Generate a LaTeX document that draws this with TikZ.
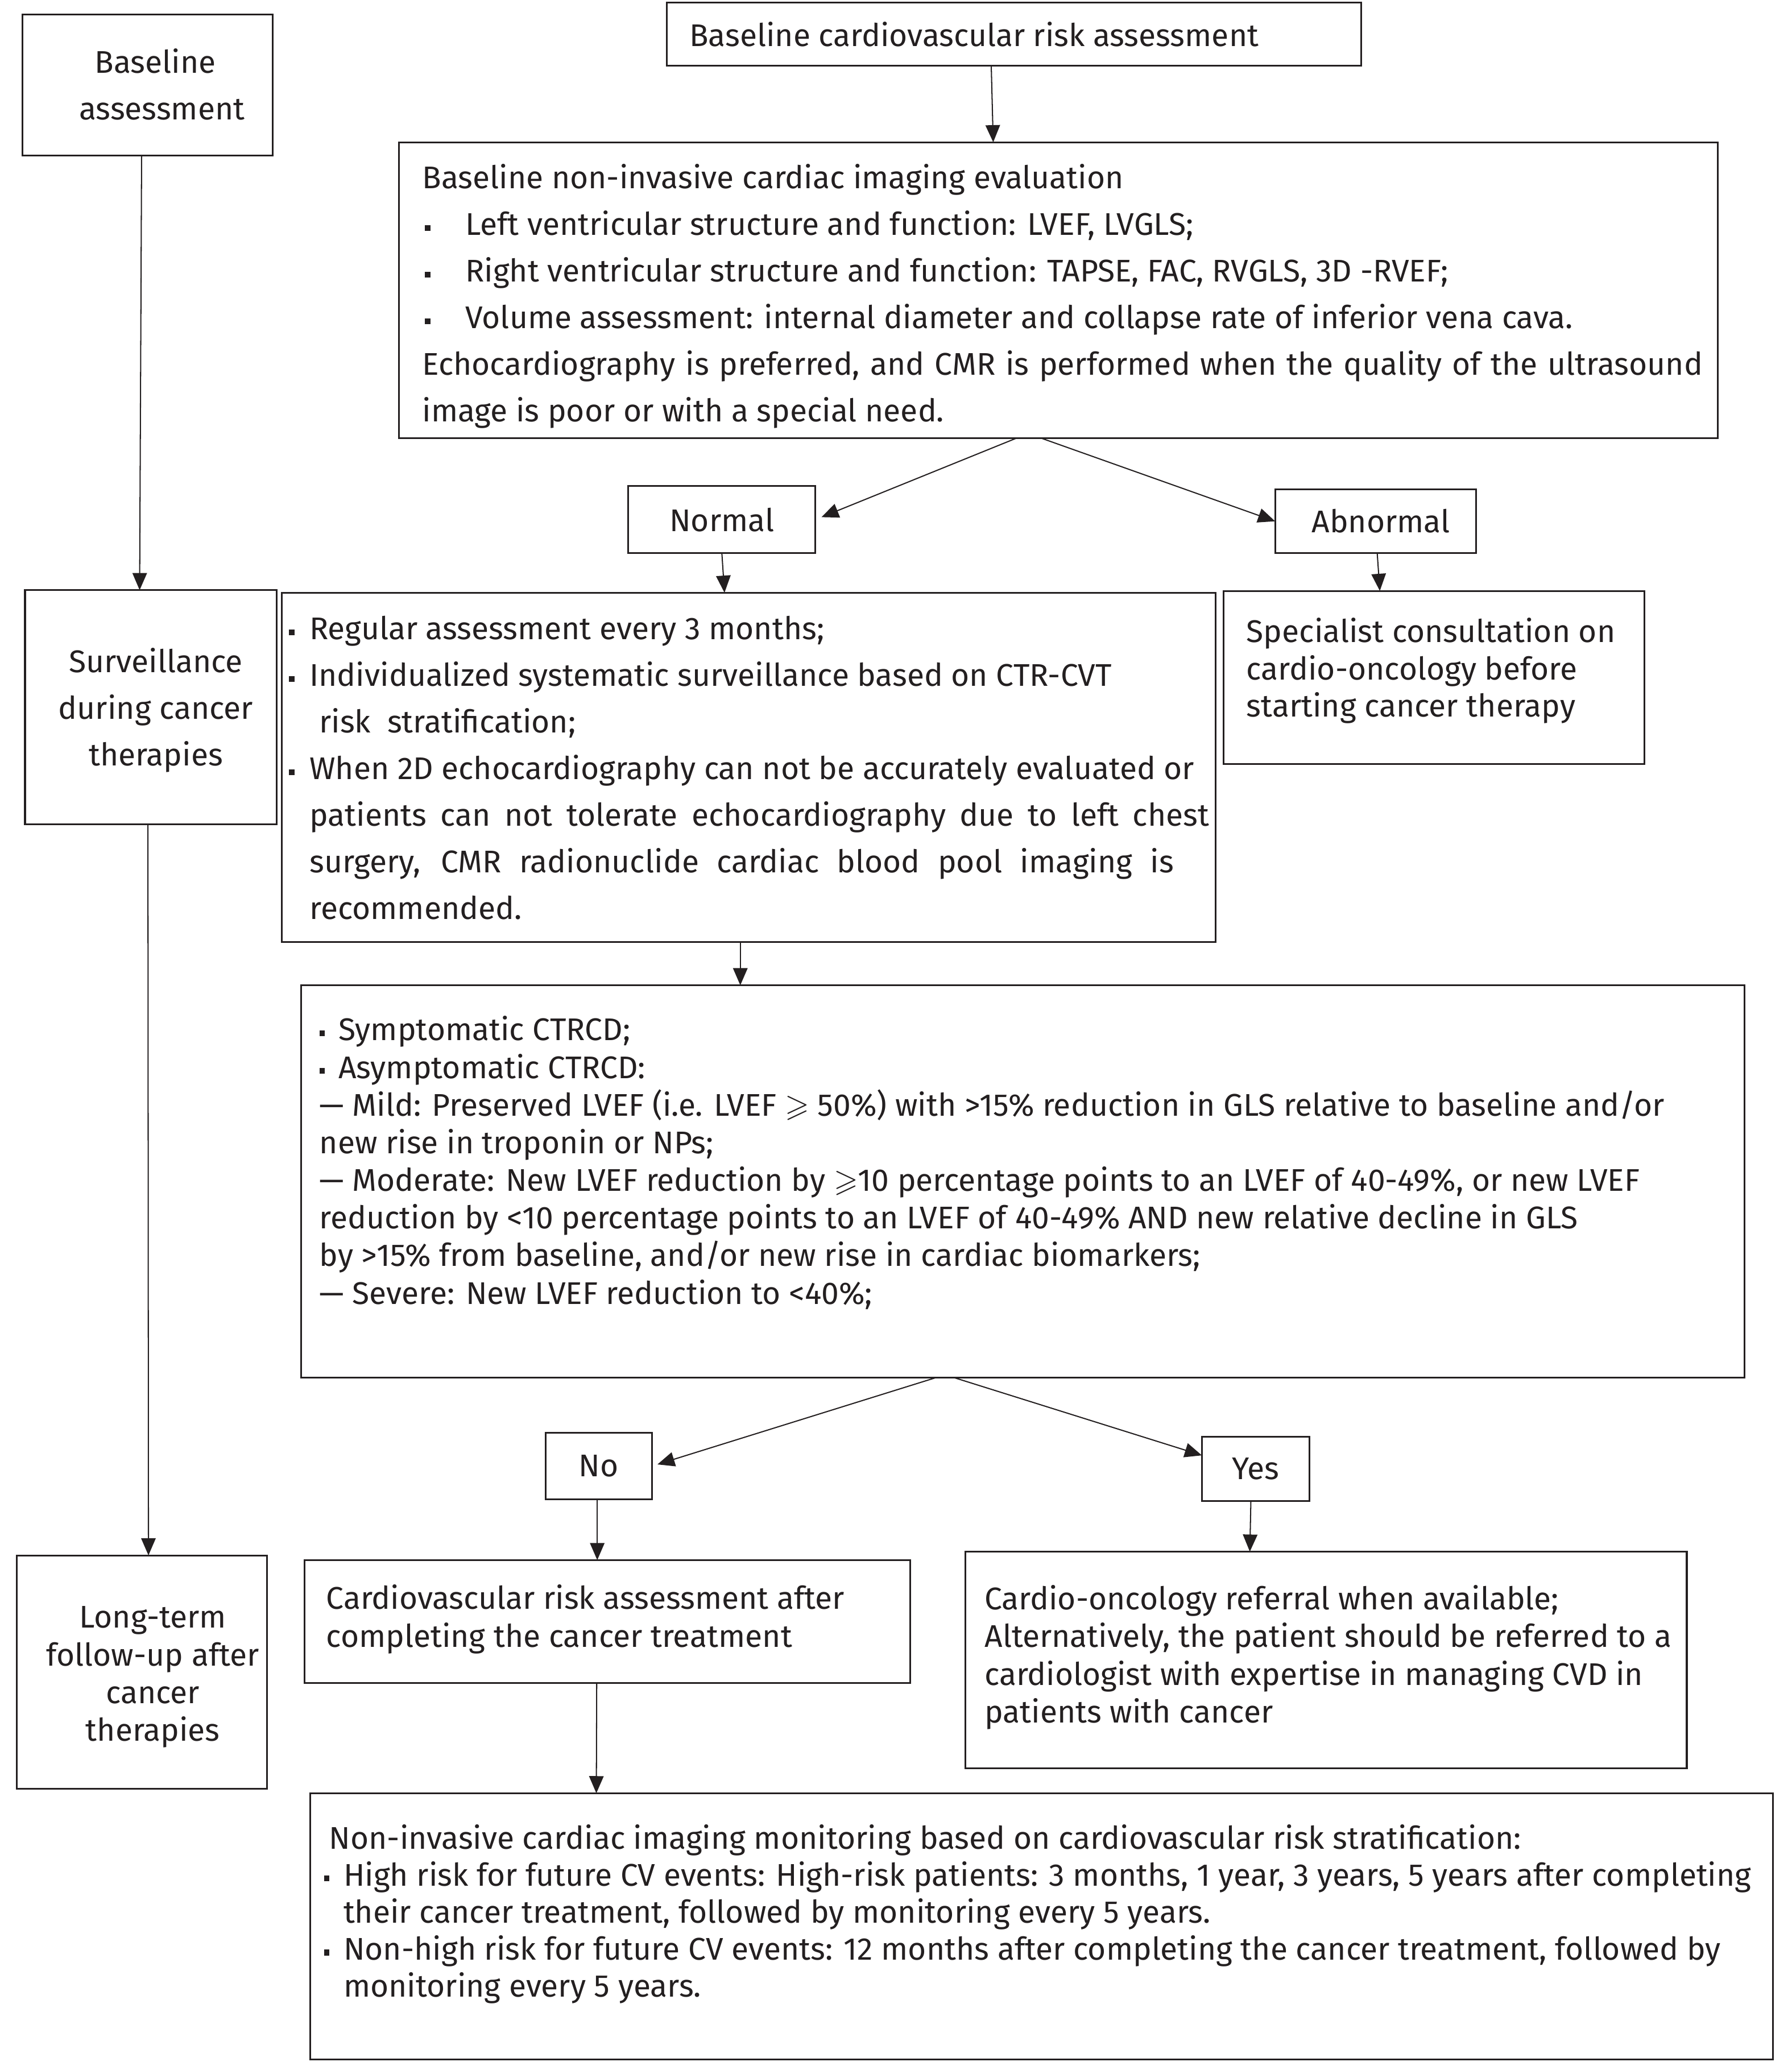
\documentclass[tikz,border=0pt]{standalone}
\usepackage{fontspec}
\usepackage{amssymb}
\setmainfont{Fira Sans}
\usetikzlibrary{arrows.meta,calc}
\newlength\pxu \setlength\pxu{0.02cm}
\definecolor{ink}{HTML}{231F20}
\newcommand\fsz{13.55}
\newcommand\bul{\rule[1.9pt]{2.3pt}{2.5pt}}
\begin{document}
\begin{tikzpicture}[x=0.02cm,y=-0.02cm,
  box/.style={draw=ink, line width=0.75pt, anchor=north west, inner sep=0pt, outer sep=0pt},
  lbl/.style={box, text=ink, font=\fontsize{\fsz}{16}\selectfont},
  txt/.style={anchor=base west, inner sep=0pt, outer sep=0pt, align=left, text=ink},
  ctxt/.style={txt, anchor=base, align=center},
  bigsk/.style={font=\fontsize{\fsz}{20.14}\selectfont},
  smsk/.style={font=\fontsize{\fsz}{16.3}\selectfont},
  arr/.style={draw=ink, line width=0.5pt, -{Triangle[length=0.26cm,width=0.22cm]}}]
\useasboundingbox (0,0) rectangle (1360,1568.5);

% ---- boxes ----
\node[box, minimum width=190\pxu, minimum height=107\pxu] (A) at (17,11) {};
\node[box, minimum width=527.5\pxu, minimum height=48\pxu] (B) at (506,2) {};
\node[box, minimum width=1001\pxu, minimum height=224.5\pxu] (C) at (303,108) {};
\node[lbl, minimum width=142\pxu, minimum height=51\pxu] (N) at (477,369) {Normal};
\node[lbl, minimum width=152.5\pxu, minimum height=48.5\pxu] (AB) at (968,371.5) {\hspace*{8\pxu}Abnormal};
\node[box, minimum width=709\pxu, minimum height=265\pxu] (D) at (214,450) {};
\node[box, minimum width=319.5\pxu, minimum height=131.6\pxu] (E) at (929,448.6) {};
\node[box, minimum width=191\pxu, minimum height=178\pxu] (F) at (19,448) {};
\node[box, minimum width=190\pxu, minimum height=177.2\pxu] (G) at (12.7,1180.8) {};
\node[box, minimum width=1096\pxu, minimum height=297.8\pxu] (H) at (228.5,748) {};
\node[lbl, minimum width=80.6\pxu, minimum height=50.4\pxu] (NO) at (414.2,1087.9) {No};
\node[lbl, minimum width=81.5\pxu, minimum height=48.6\pxu] (YES) at (912.4,1090.8) {Yes};
\node[box, minimum width=459.8\pxu, minimum height=93.2\pxu] (I) at (231,1184.4) {};
\node[box, minimum width=547.5\pxu, minimum height=164.4\pxu] (J) at (733,1178) {};
\node[box, minimum width=1110.6\pxu, minimum height=202.1\pxu] (K) at (235.4,1361.4) {};

% ---- texts (anchor = baseline of the last line) ----
\node[ctxt, bigsk] (A-t) at (118,91) {Baseline\\\hspace*{10\pxu}assessment};
\node[txt] (B-t) at (523.4,35) {\fontsize{\fsz}{16}\selectfont Baseline cardiovascular risk assessment};
\node[txt, bigsk] (C-t) at (320.6,320.2) {Baseline non-invasive cardiac imaging evaluation\\
\hspace*{2\pxu}\makebox[30.7\pxu][l]{\bul}Left ventricular structure and function: LVEF, LVGLS;\\
\hspace*{2\pxu}\makebox[30.7\pxu][l]{\bul}Right ventricular structure and function: TAPSE, FAC, RVGLS, 3D -RVEF;\\
\hspace*{2\pxu}\makebox[30.7\pxu][l]{\bul}Volume assessment: internal diameter and collapse rate of inferior vena cava.\\
\makebox[972\pxu][s]{Echocardiography is preferred, and CMR is performed when the quality of the ultrasound}\\
image is poor or with a special need.};
\node[txt, bigsk] (D-t) at (219.5,698) {\makebox[15.5\pxu][l]{\bul}Regular assessment every 3 months;\\
\makebox[15.5\pxu][l]{\bul}Individualized systematic surveillance based on CTR-CVT\\
\hspace*{22.8\pxu}risk\ \ stratification;\\
\makebox[15.5\pxu][l]{\bul}When 2D echocardiography can not be accurately evaluated or\\
\hspace*{15.5\pxu}\makebox[683\pxu][s]{patients can not tolerate echocardiography due to left chest}\\
\hspace*{15.5\pxu}\makebox[656\pxu][s]{surgery, CMR radionuclide cardiac blood pool imaging is}\\
\hspace*{15.5\pxu}recommended.};
\node[txt, font=\fontsize{\fsz}{16.16}\selectfont] (E-t) at (946.3,544.4) {Specialist consultation on\\cardio-oncology before\\starting cancer therapy};
\node[ctxt, bigsk] (F-t) at (118.3,581.4) {Surveillance\\during cancer\\therapies};
\node[ctxt, smsk] (G-t) at (116,1321.9) {Long-term\\follow-up after\\cancer\\therapies};
\node[txt, font=\fontsize{\fsz}{16.26}\selectfont] (H-t) at (242.5,990) {\makebox[14.5\pxu][l]{\bul}Symptomatic CTRCD;\\
\makebox[14.5\pxu][l]{\bul}Asymptomatic CTRCD:\\
— Mild: Preserved LVEF (i.e. LVEF $\geqslant$ 50\%) with >15\% reduction in GLS relative to baseline and/or\\
new rise in troponin or NPs;\\
— Moderate: New LVEF reduction by $\geqslant$10 percentage points to an LVEF of 40-49\%, or new LVEF\\
reduction by <10 percentage points to an LVEF of 40-49\% AND new relative decline in GLS\\
by >15\% from baseline, and/or new rise in cardiac biomarkers;\\
— Severe: New LVEF reduction to <40\%;};
\node[txt, font=\fontsize{\fsz}{16.39}\selectfont] (I-t) at (247.7,1250.3) {Cardiovascular risk assessment after\\completing the cancer treatment};
\node[txt, smsk] (J-t) at (747.5,1308) {Cardio-oncology referral when available;\\
Alternatively, the patient should be referred to a\\
cardiologist with expertise in managing CVD in\\
patients with cancer};
\node[txt, font=\fontsize{\fsz}{15.99}\selectfont] (K-t) at (246,1516) {\hspace*{3.8\pxu}Non-invasive cardiac imaging monitoring based on cardiovascular risk stratification:\\
\makebox[14.8\pxu][l]{\bul}High risk for future CV events: High-risk patients: 3 months, 1 year, 3 years, 5 years after completing\\
\hspace*{14.8\pxu}their cancer treatment, followed by monitoring every 5 years.\\
\makebox[14.8\pxu][l]{\bul}Non-high risk for future CV events: 12 months after completing the cancer treatment, followed by\\
\hspace*{14.8\pxu}monitoring every 5 years.};

% ---- connectors ----
\draw[arr] (752.5,0 |- B.south) -- (754,0 |- C.north);
\draw[arr, shorten >=0.1cm] (772,0 |- C.south) -- (N.east);
\draw[arr] (790,0 |- C.south) -- (AB.west);
\draw[arr] (N.south) -- (550,0 |- D.north);
\draw[arr] (1045.5,0 |- AB.south) -- (1047.5,0 |- E.north);
\draw[arr] (107.5,0 |- A.south) -- (106,0 |- F.north);
\draw[arr] (112.3,0 |- F.south) -- (112.7,0 |- G.north);
\draw[arr] (562,0 |- D.south) -- (562,0 |- H.north);
\draw[arr, shorten >=0.09cm] (710.8,0 |- H.south) -- (NO.east);
\draw[arr] (724,0 |- H.south) -- ($(YES.north west)!0.29!(YES.south west)$);
\draw[arr] (453.4,0 |- NO.south) -- (453.4,0 |- I.north);
\draw[arr] (949.6,0 |- YES.south) -- (948.8,0 |- J.north);
\draw[arr] (453,0 |- I.south) -- (452.7,0 |- K.north);
\end{tikzpicture}
\end{document}
